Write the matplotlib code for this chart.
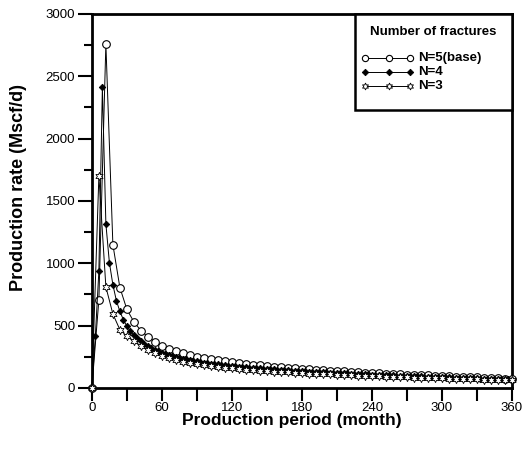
import matplotlib
matplotlib.use("Agg")
import matplotlib.pyplot as plt
from matplotlib.lines import Line2D
from matplotlib.patches import Rectangle
from matplotlib.ticker import MultipleLocator

plt.rcParams['font.family'] = ['Liberation Sans', 'DejaVu Sans']

# Production period (months)
months_6 = list(range(0, 361, 6))
months_3 = list(range(0, 361, 3))

# Gas production rate (Mscf/d)
rate_n5 = [0, 707, 2760, 1150, 805, 630, 530, 460, 410, 372,
           340, 313, 293, 278, 263, 250, 239, 229, 220, 212,
           204, 197, 191, 185, 180, 175, 170, 166, 162, 158,
           154, 150, 146, 142, 139, 135, 132, 129, 126, 123,
           120, 117, 114, 112, 109, 107, 104, 102, 100, 97,
           95, 93, 91, 89, 87, 85, 83, 80, 78, 75,
           73]

rate_n4 = [0, 420, 937, 2410, 1316, 1006, 828, 700, 614, 547,
           494, 455, 423, 397, 374, 354, 336, 320, 306, 293,
           282, 272, 263, 255, 247, 240, 234, 228, 222, 217,
           212, 207, 203, 199, 195, 191, 188, 184, 181, 178,
           175, 172, 170, 167, 165, 162, 160, 158, 156, 154,
           152, 150, 148, 146, 144, 142, 141, 139, 137, 136,
           134, 133, 131, 130, 128, 127, 125, 124, 122, 121,
           120, 118, 117, 116, 114, 113, 112, 111, 110, 108,
           107, 106, 105, 104, 103, 101, 100, 99, 98, 97,
           96, 95, 94, 93, 92, 91, 90, 89, 88, 87,
           86, 85, 84, 83, 82, 81, 80, 79, 78, 77,
           76, 75, 75, 74, 73, 72, 71, 70, 69, 68,
           67]

rate_n3 = [0, 1700, 810, 593, 467, 415, 373, 335, 302, 276,
           254, 236, 221, 209, 198, 189, 181, 174, 167, 161,
           156, 151, 146, 142, 138, 134, 131, 127, 124, 121,
           118, 115, 113, 110, 108, 105, 103, 101, 99, 97,
           95, 93, 91, 89, 87, 85, 83, 81, 80, 78,
           76, 75, 73, 72, 70, 69, 67, 66, 65, 63,
           62]

labels = ["N=5(base)", "N=4", "N=3"]
legend_title = "Number of fractures"
x_ticks = [0, 60, 120, 180, 240, 300, 360]
y_ticks = [0, 500, 1000, 1500, 2000, 2500, 3000]

fig = plt.figure(figsize=(5.25, 4.5), dpi=100)
ax = fig.add_axes([0.175, 0.138, 0.800, 0.831])

styles = [
    dict(marker='o', ms=5.5, mfc='white', mec='black', mew=0.8),
    dict(marker='D', ms=3.3, mfc='black', mec='black', mew=0.6),
    dict(marker=(6, 1, 0), ms=6, mfc='white', mec='black', mew=0.6),
]
line_kw = dict(color='black', lw=0.7, clip_on=False)

ax.plot(months_6, rate_n5, zorder=3, **styles[0], **line_kw)
ax.plot(months_3, rate_n4, zorder=4, **styles[1], **line_kw)
ax.plot(months_6, rate_n3, zorder=5, **styles[2], **line_kw)

ax.set_xlim(0, 360)
ax.set_ylim(0, 3000)
ax.set_xticks(x_ticks)
ax.set_yticks(y_ticks)
ax.xaxis.set_minor_locator(MultipleLocator(30))
ax.yaxis.set_minor_locator(MultipleLocator(250))
ax.tick_params(axis='both', which='both', direction='out', width=1.5,
               labelsize=9.5, colors='black')
ax.tick_params(axis='x', which='both', length=9, pad=1)
ax.tick_params(axis='y', which='major', length=10, pad=2)
ax.tick_params(axis='y', which='minor', length=6)
for s in ax.spines.values():
    s.set_linewidth(2)

ax.set_xlabel("Production period (month)", fontsize=12.5, fontweight='bold')
ax.set_ylabel("Production rate (Mscf/d)", fontsize=13, fontweight='bold')
ax.xaxis.set_label_coords(0.476, -0.068)
ax.yaxis.set_label_coords(-0.155, 0.535)

# Legend box in the upper-right corner, sharing the axes edges
ax.add_patch(Rectangle((0.626, 0.743), 0.374, 0.257, transform=ax.transAxes,
                       facecolor='white', edgecolor='black', lw=1.8,
                       zorder=10, clip_on=False))
ax.text(0.812, 0.952, legend_title, transform=ax.transAxes, ha='center',
        va='center', fontsize=9.5, fontweight='bold', zorder=11)
legend_rows = [0.882, 0.845, 0.807]
handle_x = [0.650, 0.707, 0.757]
legend_ms = [4.5, 3.3, 5.0]
for lab, st, yy, lms in zip(labels, styles, legend_rows, legend_ms):
    kw = dict(st)
    kw['ms'] = lms
    ax.add_line(Line2D(handle_x, [yy] * 3, transform=ax.transAxes, color='black',
                       lw=0.7, zorder=11, clip_on=False, **kw))
    ax.text(0.776, yy, lab, transform=ax.transAxes, ha='left', va='center',
            fontsize=9.5, fontweight='bold', zorder=11)

fig.savefig("out.png", dpi=100)
